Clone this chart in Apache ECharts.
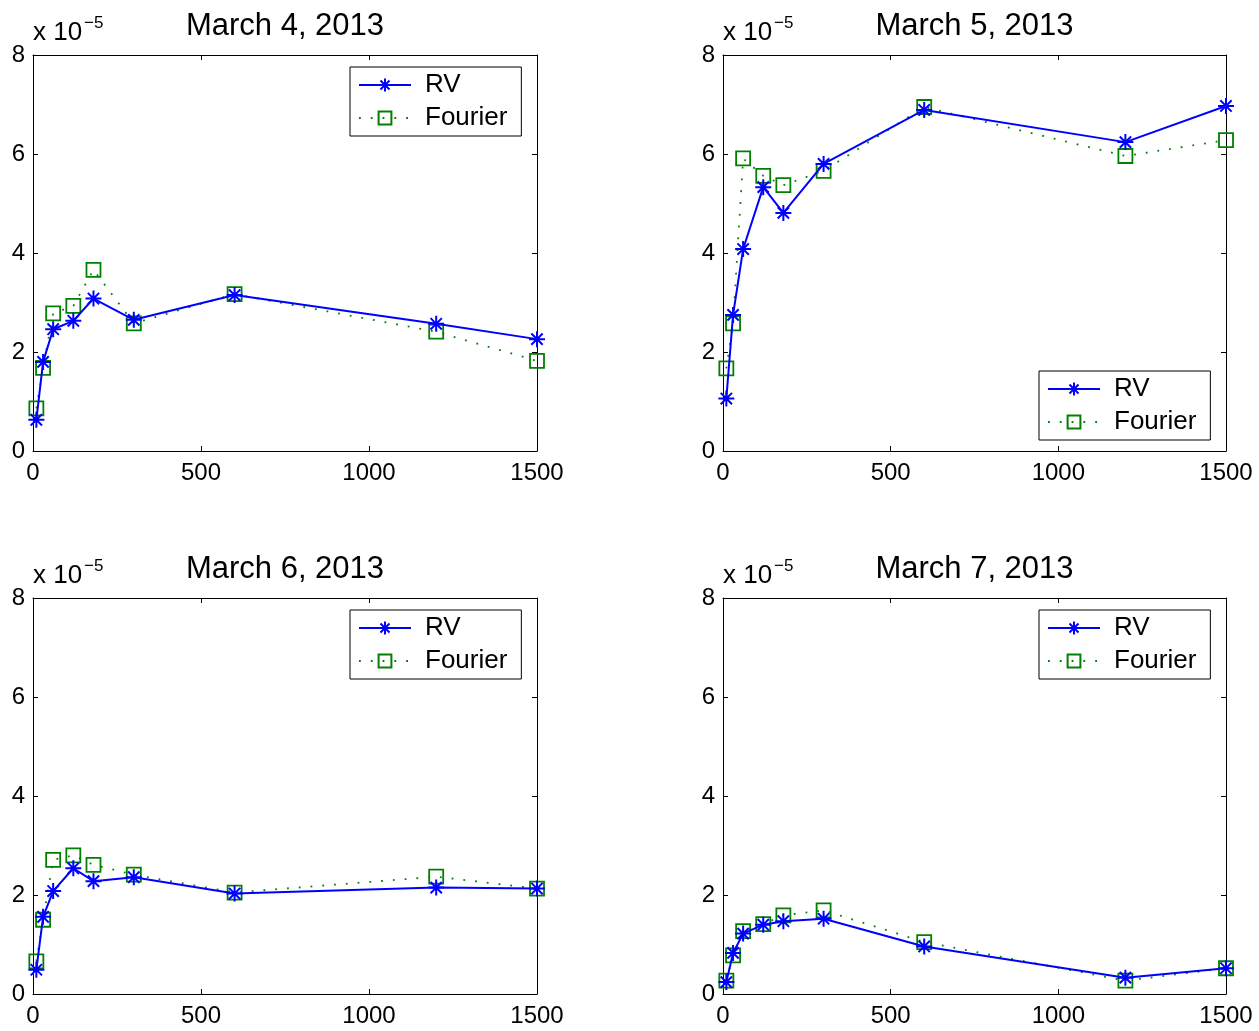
<!DOCTYPE html>
<html><head><meta charset="utf-8">
<script src="https://cdn.jsdelivr.net/npm/echarts@6/dist/echarts.min.js"></script>
<style>html,body{margin:0;padding:0;background:#fff}#c{width:1259px;height:1031px}</style>
</head><body><div id="c"></div>
<script>
// Sampling interval (seconds) on the x axis
const xValues = [10, 30, 60, 120, 180, 300, 600, 1200, 1500];
const titles = ['March 4, 2013', 'March 5, 2013', 'March 6, 2013', 'March 7, 2013'];
// Values in units of 1e-5
const rvMar4 = [0.63, 1.80, 2.46, 2.63, 3.08, 2.65, 3.15, 2.57, 2.26];
const fourierMar4 = [0.86, 1.68, 2.78, 2.93, 3.66, 2.58, 3.17, 2.41, 1.82];
const rvMar5 = [1.06, 2.75, 4.08, 5.33, 4.81, 5.80, 6.89, 6.24, 6.97];
const fourierMar5 = [1.67, 2.58, 5.91, 5.56, 5.37, 5.66, 6.95, 5.96, 6.28];
const rvMar6 = [0.49, 1.56, 2.08, 2.54, 2.28, 2.36, 2.03, 2.15, 2.13];
const fourierMar6 = [0.66, 1.50, 2.71, 2.80, 2.61, 2.41, 2.05, 2.37, 2.13];
const rvMar7 = [0.24, 0.83, 1.22, 1.40, 1.47, 1.52, 0.96, 0.33, 0.52];
const fourierMar7 = [0.27, 0.78, 1.27, 1.41, 1.59, 1.69, 1.05, 0.27, 0.52];
const rvSets = [rvMar4, rvMar5, rvMar6, rvMar7];
const fourierSets = [fourierMar4, fourierMar5, fourierMar6, fourierMar7];
const xTickInterval = 500, xMax = 1500;
const yTickInterval = 2, yMax = 8;
const multiplierText = 'x 10';
const multiplierExp = '\u22125';

const FONT = '"Liberation Sans", Arial, Helvetica, sans-serif';
const grids = [
  {left: 33, top: 55, width: 504, height: 396},
  {left: 723, top: 55, width: 503, height: 396},
  {left: 33, top: 598, width: 504, height: 396},
  {left: 723, top: 598, width: 503, height: 396}
];
const legendPos = [
  {left: 350, top: 67}, {left: 1039, top: 371},
  {left: 350, top: 610}, {left: 1039, top: 610}
];
const asterisk = 'path://M0,-10L0,10M-10,0L10,0M-7.07,-7.07L7.07,7.07M-7.07,7.07L7.07,-7.07';

const xAxes = [], yAxes = [], series = [], legends = [], graphics = [];
grids.forEach((g, i) => {
  const common = {
    gridIndex: i, min: 0, splitLine: {show: false},
    axisLine: {show: true, onZero: false, lineStyle: {color: '#000', width: 1}},
    axisTick: {show: true, inside: true, length: 5, lineStyle: {color: '#000', width: 1}}
  };
  xAxes.push(Object.assign({}, common, {type: 'value', position: 'bottom', max: xMax, interval: xTickInterval,
    axisLabel: {show: true, color: '#000', fontSize: 24, fontFamily: FONT, margin: 10, formatter: v => String(v)}}));
  xAxes.push(Object.assign({}, common, {type: 'value', position: 'top', max: xMax, interval: xTickInterval,
    axisLabel: {show: false}}));
  yAxes.push(Object.assign({}, common, {type: 'value', position: 'left', max: yMax, interval: yTickInterval,
    axisLabel: {show: true, color: '#000', fontSize: 24, fontFamily: FONT, margin: 8, formatter: v => String(v)}}));
  yAxes.push(Object.assign({}, common, {type: 'value', position: 'right', max: yMax, interval: yTickInterval,
    axisLabel: {show: false}}));
  series.push({
    name: 'RV', type: 'line', xAxisIndex: 2 * i, yAxisIndex: 2 * i,
    data: xValues.map((x, k) => [x, rvSets[i][k]]),
    symbol: asterisk, symbolSize: 16, showAllSymbol: true,
    lineStyle: {color: '#0000ff', width: 2},
    itemStyle: {color: '#0000ff', borderColor: '#0000ff', borderWidth: 2},
    emphasis: {disabled: true}, z: 3
  });
  series.push({
    name: 'Fourier', type: 'line', xAxisIndex: 2 * i, yAxisIndex: 2 * i,
    data: xValues.map((x, k) => [x, fourierSets[i][k]]),
    symbol: 'rect', symbolSize: 14, showAllSymbol: true,
    lineStyle: {color: '#008000', width: 1.8, type: [1.8, 10]},
    itemStyle: {color: 'rgba(0,0,0,0)', borderColor: '#008000', borderWidth: 1.8},
    emphasis: {disabled: true}, z: 2
  });
  legends.push({
    data: ['RV', 'Fourier'], orient: 'vertical', left: legendPos[i].left, top: legendPos[i].top,
    itemWidth: 52, itemHeight: 16, itemGap: 7, padding: [5, 14, 5, 8],
    borderColor: '#000', borderWidth: 1, backgroundColor: '#fff',
    textStyle: {fontSize: 26, fontFamily: FONT, color: '#000', padding: [0, 0, 0, 9]},
    selectedMode: false
  });
  graphics.push({
    type: 'text', x: g.left + g.width / 2, y: g.top - 29,
    style: {text: titles[i], fontSize: 31, fontFamily: FONT, fill: '#000', align: 'center', verticalAlign: 'middle'}
  });
  graphics.push({
    type: 'text', x: g.left, y: g.top - 22,
    style: {text: multiplierText, fontSize: 26, fontFamily: FONT, fill: '#000', align: 'left', verticalAlign: 'middle'}
  });
  graphics.push({
    type: 'text', x: g.left + 51, y: g.top - 32,
    style: {text: multiplierExp, fontSize: 17, fontFamily: FONT, fill: '#000', align: 'left', verticalAlign: 'middle'}
  });
});

const chart = echarts.init(document.getElementById('c'), null, {renderer: 'canvas'});
chart.setOption({
  animation: false, backgroundColor: '#fff',
  grid: grids, xAxis: xAxes, yAxis: yAxes, series: series, legend: legends, graphic: graphics
});
</script></body></html>
